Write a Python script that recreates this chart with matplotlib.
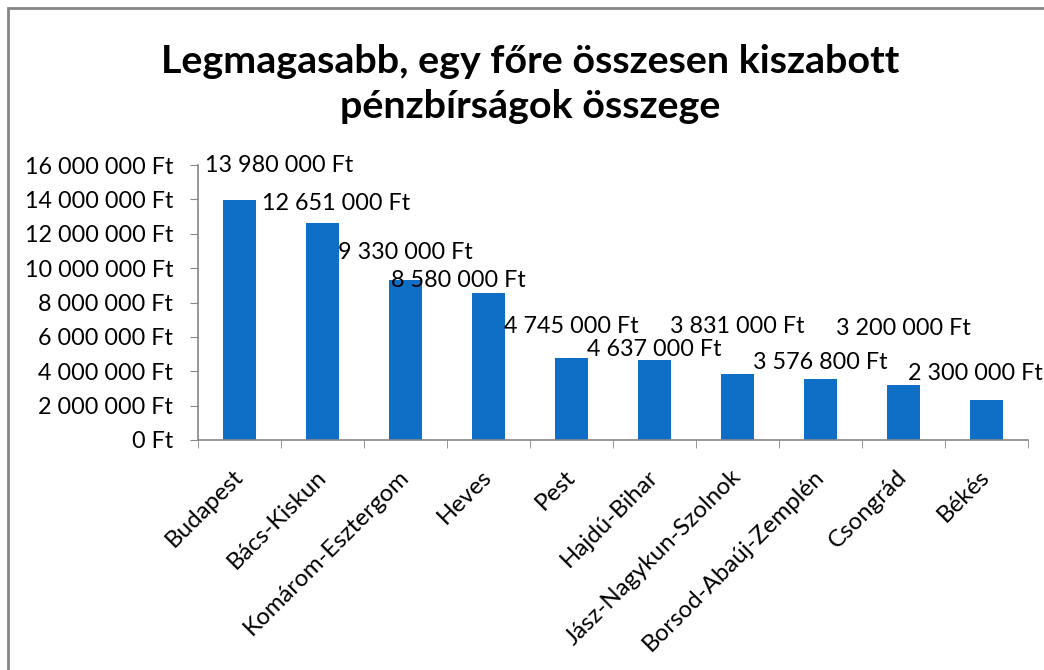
"""
Legmagasabb, egy főre összesen kiszabott pénzbírságok összege – oszlopdiagram.

Output: out.png
"""
import matplotlib
matplotlib.use("Agg")
import matplotlib.pyplot as plt
from matplotlib.patches import Rectangle
from matplotlib.ticker import FuncFormatter, FixedLocator
from matplotlib.transforms import ScaledTranslation

COUNTIES = ["Budapest", "Bács-Kiskun", "Komárom-Esztergom", "Heves", "Pest",
            "Hajdú-Bihar", "Jász-Nagykun-Szolnok", "Borsod-Abaúj-Zemplén",
            "Csongrád", "Békés"]
FINES = [13980000, 12651000, 9330000, 8580000, 4745000,
         4637000, 3831000, 3576800, 3200000, 2300000]

TITLE = "Legmagasabb, egy főre összesen kiszabott\npénzbírságok összege"

# label offsets from bar top (pixels) – manually shifted in the original
LABEL_OFFSETS = [(40, 34), (14, 19), (0, 27), (-30, 12), (0, 32),
                 (0, 11), (0, 48), (0, 16), (0, 56), (-11, 27)]

BAR_COLOR = "#0F6FC6"
AXIS_COLOR = "#868686"
FONT = "Lato"
FS = 16.8


def ft(v, _pos=None):
    return f"{v:,.0f}".replace(",", " ") + " Ft"


def main():
    plt.rcParams["font.family"] = [FONT, "DejaVu Sans"]
    fig = plt.figure(figsize=(10.44, 6.70), dpi=100)
    ax = fig.add_axes([0.1897, 0.3433, 0.795, 0.4104])

    xs = range(len(COUNTIES))
    bars = ax.bar(xs, FINES, width=0.4, color=BAR_COLOR, zorder=2)

    for bar, val, (dx, dy) in zip(bars, FINES, LABEL_OFFSETS):
        ax.annotate(ft(val), (bar.get_x() + bar.get_width() / 2, val),
                    xytext=(dx, dy), textcoords="offset pixels",
                    ha="center", va="center", fontsize=FS,
                    annotation_clip=False)

    ax.set_xlim(-0.5, len(COUNTIES) - 0.5)
    ax.set_ylim(0, 16000000)
    ax.yaxis.set_major_locator(FixedLocator(range(0, 16000001, 2000000)))
    ax.yaxis.set_major_formatter(FuncFormatter(ft))

    ax.set_xticks(list(xs))
    ax.set_xticklabels(COUNTIES, rotation=45, ha="right", va="center",
                       rotation_mode="anchor", fontsize=17.3)
    shift = ScaledTranslation(-4 / 100, 0, fig.dpi_scale_trans)
    for lbl in ax.get_xticklabels():
        lbl.set_transform(lbl.get_transform() + shift)
    ax.xaxis.set_minor_locator(FixedLocator([i - 0.5 for i in range(len(COUNTIES) + 1)]))
    ax.tick_params(axis="x", which="major", length=0, pad=24)
    ax.tick_params(axis="x", which="minor", length=6, color=AXIS_COLOR,
                   direction="out")
    ax.tick_params(axis="y", length=6, color=AXIS_COLOR, labelsize=FS, pad=12)

    for side in ("top", "right"):
        ax.spines[side].set_visible(False)
    for side in ("left", "bottom"):
        ax.spines[side].set_color(AXIS_COLOR)
        ax.spines[side].set_linewidth(1.2)

    fig.text(0.508, 0.8746, TITLE, ha="center", va="center",
             fontsize=28.4, fontweight="bold", linespacing=1.35)

    # chart area border (only top and left visible in the crop)
    fig.patches.append(Rectangle((8 / 1044, -0.1), 1.2, 1.1 - 8 / 670,
                                 transform=fig.transFigure, fill=False,
                                 edgecolor=AXIS_COLOR, linewidth=2))

    fig.savefig("out.png", dpi=100)
    plt.close(fig)


if __name__ == "__main__":
    main()
